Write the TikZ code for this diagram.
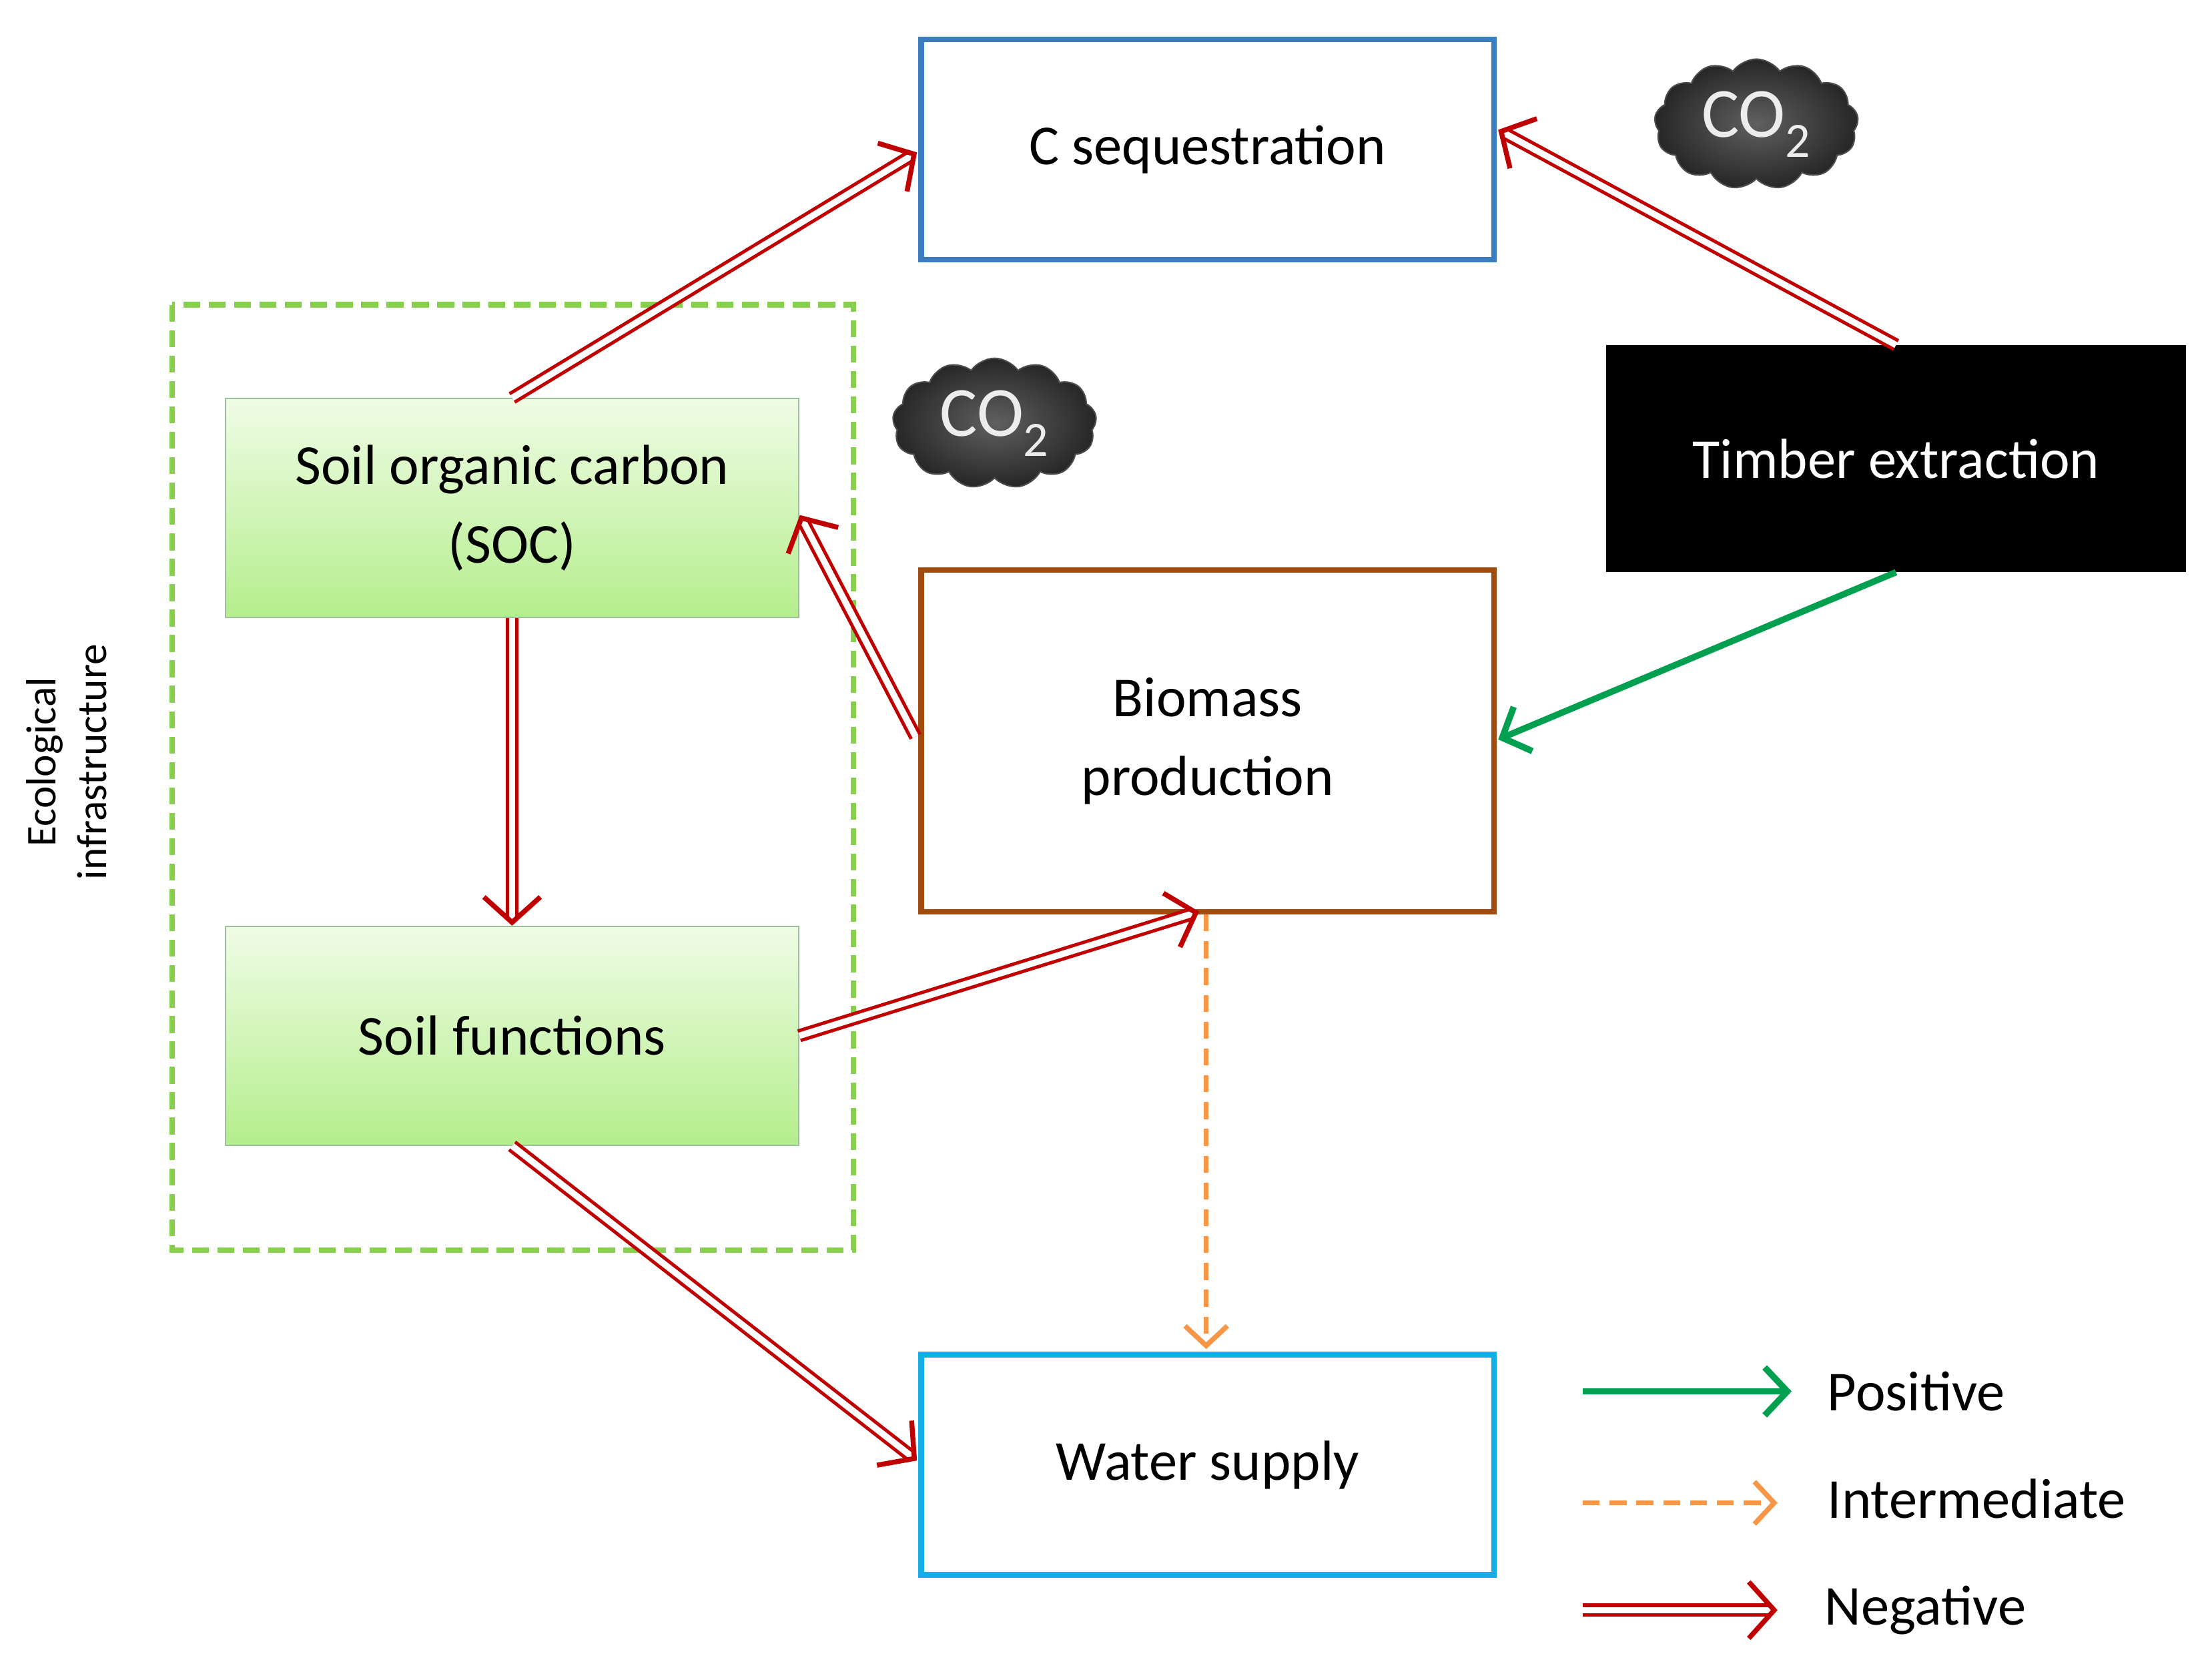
\documentclass[tikz,border=0pt]{standalone}
\usepackage{fontspec}
\setmainfont{Carlito}
\usetikzlibrary{arrows.meta,shapes.symbols,calc}
\definecolor{negred}{HTML}{C00000}
\definecolor{posgreen}{HTML}{00A050}
\definecolor{interor}{HTML}{F79646}
\definecolor{cseqblue}{HTML}{3C7DC0}
\definecolor{biobrown}{HTML}{A04B0F}
\definecolor{watercyan}{HTML}{14AEE6}
\definecolor{soiltop}{HTML}{F0FCE6}
\definecolor{soilbot}{HTML}{B4EE8C}
\definecolor{ecogreen}{HTML}{86D04E}
\begin{document}
\begin{tikzpicture}[x=1pt,y=-1pt,
  box/.style={draw,line width=4pt,minimum width=406pt,align=center,font=\fontsize{40}{56}\selectfont,inner sep=0pt},
  soil/.style={draw=green!40!black!40,line width=1pt,top color=soiltop,bottom color=soilbot,minimum width=406pt,minimum height=155pt,align=center,font=\fontsize{40}{56}\selectfont},
  neg/.style={draw=negred,double=white,line width=2.4pt,double distance=4.5pt,-{Straight Barb[length=18pt,width=40pt,line width=3.5pt]}},
  posarr/.style={draw=posgreen,line width=4.5pt,-{Straight Barb[length=16pt,width=34pt]}},
  inter/.style={draw=interor,line width=3.5pt,dash pattern=on 12pt off 7pt,-{Straight Barb[length=14pt,width=30pt]}},
  co2/.style={cloud,cloud puffs=13,cloud puff arc=110,aspect=1.8,inner sep=4pt,draw=gray!60!black,line width=1pt,inner color=gray!75!black,outer color=black!85,text=gray!15,font=\fontsize{50}{50}\selectfont}]
\useasboundingbox (0,0) rectangle (1568,1183);
\fill[white] (0,0) rectangle (1568,1183);
\draw[ecogreen,line width=4pt,dash pattern=on 12pt off 6pt] (122,216) rectangle (605,886);
\node[rotate=90,align=center,font=\fontsize{30}{36}\selectfont] (eco) at (47,540) {Ecological\\infrastructure};
\node[box,draw=cseqblue,minimum height=156pt] (cseq) at (856,106) {C sequestration};
\node[box,draw=black,fill=black,text=white,minimum width=410pt,minimum height=160pt,line width=1pt] (timber) at (1344,325) {Timber extraction};
\node[box,draw=biobrown,minimum height=242pt] (bio) at (856,525) {Biomass\\production};
\node[box,draw=watercyan,minimum height=156pt] (water) at (856,1038) {Water supply};
\node[soil] (soc) at (363,360) {Soil organic carbon\\(SOC)};
\node[soil] (sf) at (363,734) {Soil functions};
\node[co2] (c1) at (1245,88) {CO\textsubscript{2}};
\node[co2] (c2) at (705,300) {CO\textsubscript{2}};
\coordinate (cseqL) at (650,108);
\coordinate (cseqR) at (1062,92);
\coordinate (bioR) at (1062,524);
\coordinate (bioL) at (649,522);
\coordinate (socR) at (567,365);
\coordinate (bioB) at (850,646);
\coordinate (bioB2) at (855,648);
\coordinate (waterT) at (855,956);
\coordinate (waterL) at (650,1035);
\draw[neg] (soc.north) -- (cseqL);
\draw[neg] (timber.north) -- (cseqR);
\draw[posarr] (timber.south) -- (bioR);
\draw[neg] (bioL) -- (socR);
\draw[neg] (soc.south) -- (sf.north);
\draw[neg] (sf.east) -- (bioB);
\draw[neg] (sf.south) -- (waterL);
\draw[inter] (bioB2) -- (waterT);
% legend
\coordinate (p1) at (1122,986); \coordinate (p2) at (1270,986);
\coordinate (i1) at (1122,1065); \coordinate (i2) at (1260,1065);
\coordinate (n1) at (1122,1141); \coordinate (n2) at (1260,1141);
\draw[posarr] (p1) -- (p2);
\draw[inter] (i1) -- (i2);
\draw[neg] (n1) -- (n2);
\node[anchor=west,font=\fontsize{40}{56}\selectfont] (lp) at (1292,986) {Positive};
\node[anchor=west,font=\fontsize{40}{56}\selectfont] (li) at (1292,1062) {Intermediate};
\node[anchor=west,font=\fontsize{40}{56}\selectfont] (ln) at (1290,1141) {Negative};
\end{tikzpicture}
\end{document}
